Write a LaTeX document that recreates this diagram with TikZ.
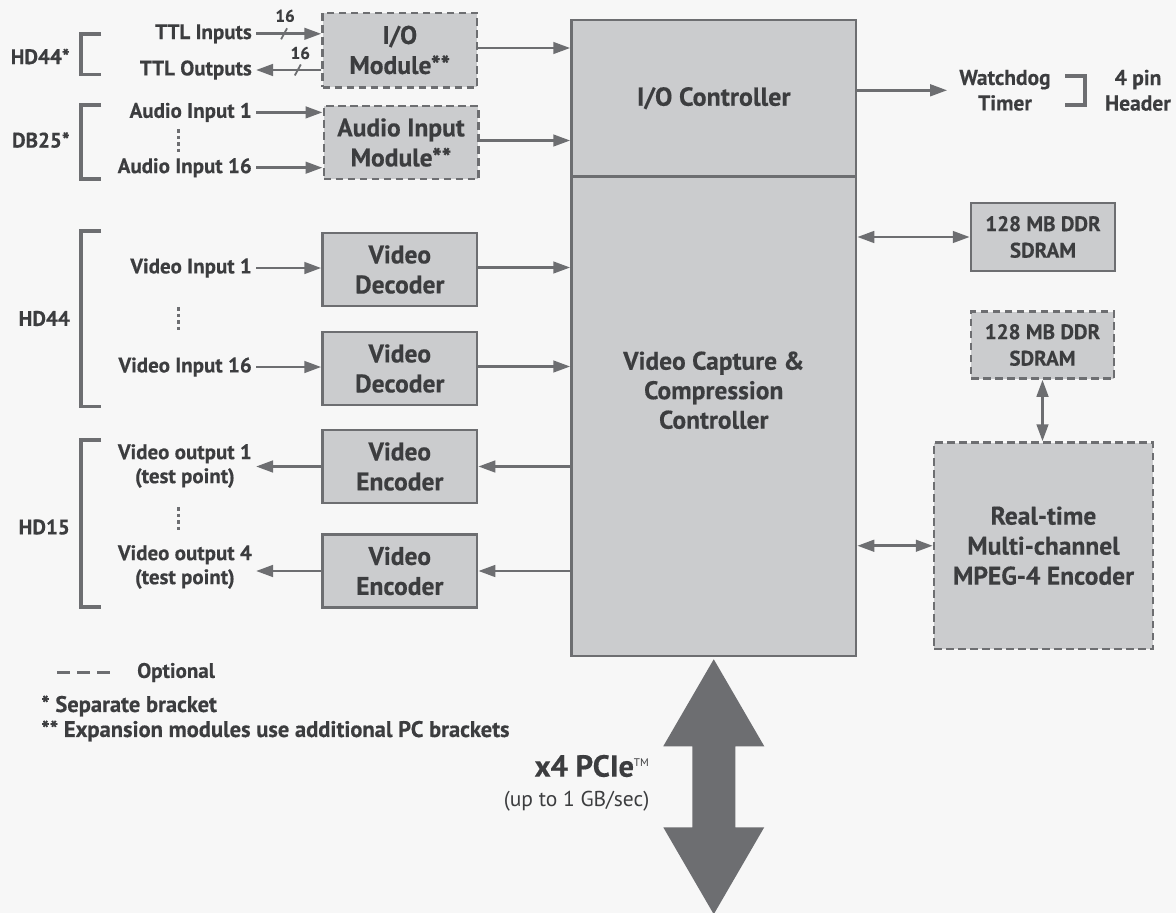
\documentclass[tikz,border=0pt]{standalone}
\usepackage{fontspec}
\setmainfont{PT Sans}[BoldFeatures={FakeBold=0.4}]
\usetikzlibrary{arrows.meta}
\definecolor{paper}{HTML}{F7F7F7}
\definecolor{boxfill}{HTML}{CBCCCE}
\definecolor{edge}{HTML}{6D6E71}
\definecolor{ink}{HTML}{3C3D3F}
\newcommand\fsz[2]{\fontsize{#1}{#2}\selectfont}

\begin{document}
\begin{tikzpicture}[x=1pt, y=-1pt,
  txt/.style={text=ink, font=\bfseries\fsz{21}{24}, align=center, inner sep=0pt},
  lbl/.style={txt, inner xsep=4pt},
  note/.style={txt, font=\bfseries\fsz{22.5}{24}},
  blk/.style={draw=edge, fill=boxfill, line width=2.5pt, text=ink, align=center,
              inner sep=0pt, font=\bfseries\fsz{25.5}{30}},
  optblk/.style={blk, dash pattern=on 7.5pt off 4.5pt},
  conn/.style={draw=edge, line width=2.9pt},
  arr/.style={conn, -{Triangle[length=17pt,width=11.5pt]}},
  darr/.style={conn, {Triangle[length=17pt,width=11.5pt]}-{Triangle[length=17pt,width=11.5pt]}},
  tick/.style={draw=edge, line width=1.8pt},
  brk/.style={draw=edge, line width=3.5pt},
  dotsv/.style={draw=edge, line width=3pt, dash pattern=on 3.5pt off 3pt},
  small/.style={txt, font=\bfseries\fsz{17}{17}},
]
% canvas
\fill[paper] (0,0) rectangle (1176,913);
\useasboundingbox (0,0) rectangle (1176,913);

% central controller
\node[blk, minimum width=284.5pt, minimum height=156.5pt, font=\bfseries\fsz{26}{30}]
  (iocnt) at (713.75,98.25) {I/O Controller};
\node[blk, minimum width=284.5pt, minimum height=479.5pt] (vcc) at (713.75,416.25) {};
\node[txt, font=\bfseries\fsz{25.5}{29.5}] (vcctxt) at ([yshift=26pt]vcc.center)
  {Video Capture \&\\Compression\\Controller};

% modules on the left
\node[optblk, minimum width=154.5pt, minimum height=74.5pt] (iomod) at (399.8,50) {I/O\\Module**};
\node[optblk, minimum width=154.5pt, minimum height=73pt] (audmod) at (401,142.5) {Audio Input\\Module**};
\node[blk, minimum width=154.5pt, minimum height=73pt] (dec1) at (399.8,269.5) {Video\\Decoder};
\node[blk, minimum width=154.5pt, minimum height=73pt] (dec2) at (399.8,368.5) {Video\\Decoder};
\node[blk, minimum width=154.5pt, minimum height=73pt] (enc1) at (399.8,466.5) {Video\\Encoder};
\node[blk, minimum width=154.5pt, minimum height=73pt] (enc2) at (399.8,571) {Video\\Encoder};

% memory and encoder on the right
\node[blk, minimum width=144pt, minimum height=68pt, font=\bfseries\fsz{21}{26.5}] (sd1) at (1043,237) {128 MB DDR\\SDRAM};
\node[optblk, minimum width=143pt, minimum height=67pt, font=\bfseries\fsz{21}{26.5}] (sd2) at (1042.5,345) {128 MB DDR\\SDRAM};
\node[optblk, minimum width=219pt, minimum height=206.5pt, font=\bfseries\fsz{25.5}{30}] (mpeg) at (1043.5,545.75)
  {Real-time\\Multi-channel\\MPEG-4 Encoder};

% signal labels
\node[lbl, anchor=east] (ttlin)  at (256,33.8)  {TTL Inputs};
\node[lbl, anchor=east] (ttlout) at (256,70)    {TTL Outputs};
\node[lbl, anchor=east] (aud1)   at (256,112.4) {Audio Input 1};
\node[lbl, anchor=east] (aud16)  at (256,167.7) {Audio Input 16};
\node[lbl, anchor=east] (vin1)   at (256,268)   {Video Input 1};
\node[lbl, anchor=east] (vin16)  at (256,367)   {Video Input 16};
\node[lbl, anchor=east] (vout1)  at (256,466)   {Video output 1\\(test point)};
\node[lbl, anchor=east] (vout4)  at (256,567)   {Video output 4\\(test point)};

% connector names
\node[txt, anchor=east] (c1) at (70,56.5)  {HD44*};
\node[txt, anchor=east] (c2) at (70,140)   {DB25*};
\node[txt, anchor=east] (c3) at (70,318.5) {HD44};
\node[txt, anchor=east] (c4) at (70,527)   {HD15};

% brackets
\draw[brk] (101,34) -- (81,34) -- (81,74.5) -- (101,74.5);
\draw[brk] (101,105) -- (81,105) -- (81,179) -- (101,179);
\draw[brk] (101,231) -- (81,231) -- (81,406.5) -- (101,406.5);
\draw[brk] (101,440) -- (81,440) -- (81,607) -- (101,607);

% vertical ellipses
\draw[dotsv] (178.5,129) -- (178.5,153);
\draw[dotsv] (178.5,307) -- (178.5,331);
\draw[dotsv] (178.5,507) -- (178.5,531);

% TTL buses
\draw[arr] (ttlin.east) -- coordinate[pos=0.43] (s1) (iomod.west |- ttlin.east);
\draw[tick] ([shift={(-3,5.5)}]s1) -- ([shift={(3,-5.5)}]s1);
\node[small] (w1) at ([shift={(1,-18)}]s1) {16};
\draw[arr] (iomod.west |- ttlout.east) -- coordinate[pos=0.36] (s2) (ttlout.east);
\draw[tick] ([shift={(-3,5.5)}]s2) -- ([shift={(3,-5.5)}]s2);
\node[small] (w2) at ([shift={(2.5,-17)}]s2) {16};

% inputs into modules
\draw[arr] (aud1.east) -- (audmod.west |- aud1.east);
\draw[arr] (aud16.east) -- (audmod.west |- aud16.east);
\draw[arr] (vin1.east) -- (dec1.west |- vin1.east);
\draw[arr] (vin16.east) -- (dec2.west |- vin16.east);

% modules into controller
\draw[arr] ([yshift=2pt]iomod.east) -- ([yshift=2pt]iocnt.west |- iomod.east);
\draw[arr] ([yshift=2pt]audmod.east) -- ([yshift=2pt]iocnt.west |- audmod.east);
\draw[arr] ([yshift=2pt]dec1.east) -- ([yshift=2pt]vcc.west |- dec1.east);
\draw[arr] ([yshift=2pt]dec2.east) -- ([yshift=2pt]vcc.west |- dec2.east);

% controller out to encoders and outputs
\draw[arr] (vcc.west |- enc1.east) -- (enc1.east);
\draw[arr] (vcc.west |- enc2.east) -- (enc2.east);
\draw[arr] (enc1.west) -- (vout1.east |- enc1.west);
\draw[arr] (enc2.west) -- (vout4.east |- enc2.west);

% right side
\node[txt, font=\bfseries\fsz{21.5}{25.5}] (wd)  at (1005,90.3)   {Watchdog\\Timer};
\node[txt, font=\bfseries\fsz{21.5}{25.5}] (hdr) at (1138,90.3) {4 pin\\Header};
\draw[arr] (iocnt.east |- wd.west) -- ([xshift=-12pt]wd.west);
\draw[brk] (1065,76) -- (1085,76) -- (1085,105) -- (1065,105);

\draw[darr] (vcc.east |- sd1.west) -- (sd1.west);
\draw[darr] (vcc.east |- mpeg.west) -- (mpeg.west);
\draw[darr] (sd2.south) -- (sd2.south |- mpeg.north);

% host bus
\fill[edge] ([yshift=-2pt]vcc.south) -- ++(50.5,87) -- ++(-29,0) -- ++(0,81) -- ++(29,0)
  -- ++(-50.5,87) -- ++(-50.5,-87) -- ++(29,0) -- ++(0,-81) -- ++(-29,0) -- cycle;
\node[txt, anchor=east, font=\bfseries\fsz{30.5}{32}] (pcie) at (649,766)
  {x4 PCIe\raisebox{10pt}{\mdseries\fsz{11}{11}TM}};
\node[txt, anchor=east, font=\mdseries\fsz{21.5}{24}] (rate) at (649.5,801) {(up to 1 GB/sec)};

% legend
\draw[draw=edge, line width=3pt, dash pattern=on 13pt off 7pt] (57,672.5) -- (110,672.5);
\node[txt, anchor=west] (optl) at (137,672.5) {Optional};
\node[note, anchor=west] (n1) at (41,706) {* Separate bracket};
\node[note, anchor=west] (n2) at (41,731) {** Expansion modules use additional PC brackets};
\end{tikzpicture}
\end{document}
